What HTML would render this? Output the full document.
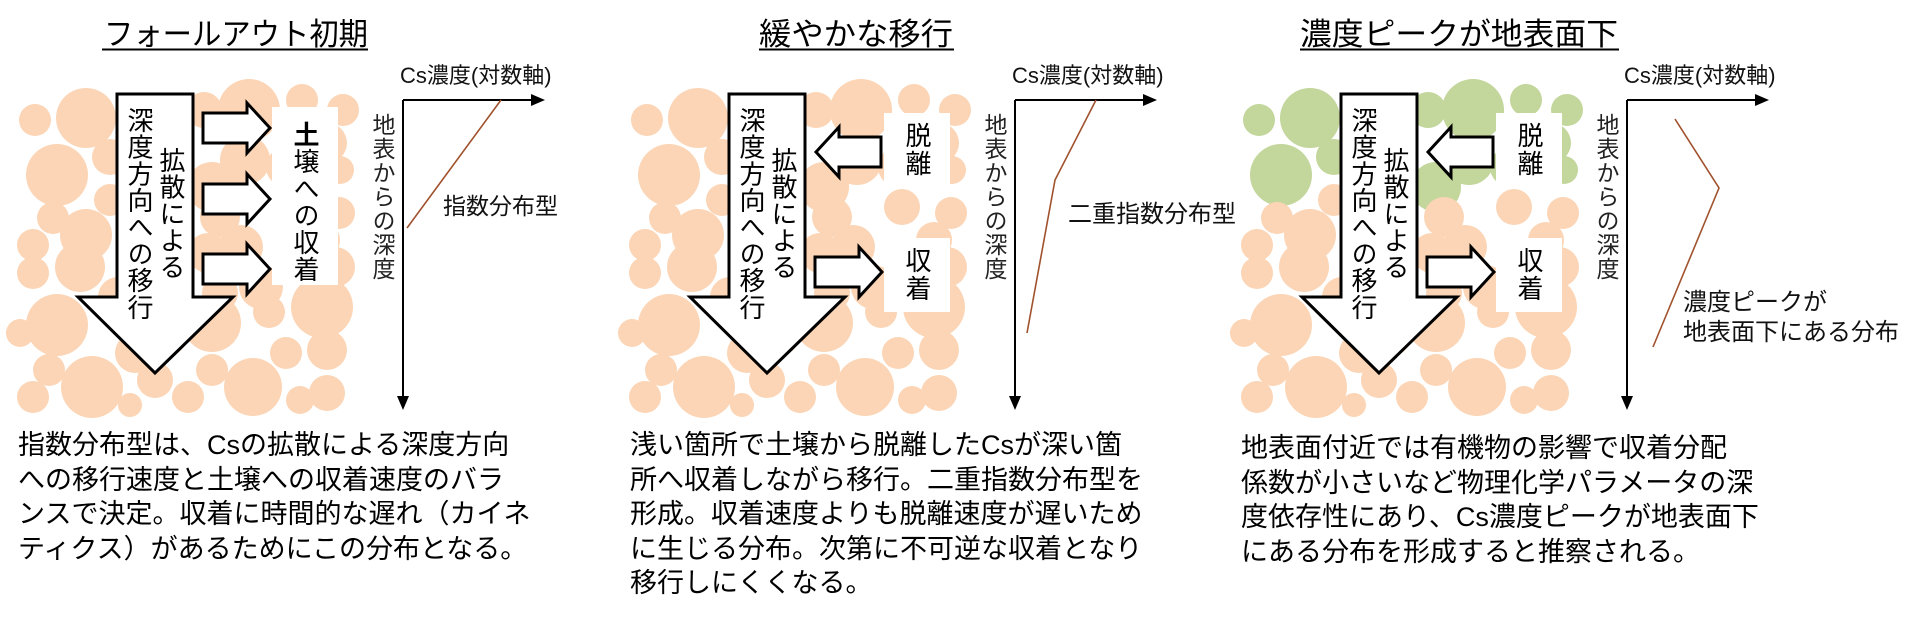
<!DOCTYPE html>
<html><head><meta charset="utf-8">
<style>
html,body{margin:0;padding:0;background:#fff;}
body{width:1917px;height:618px;position:relative;overflow:hidden;font-family:"Liberation Sans","Noto Sans CJK JP",sans-serif;}
svg{position:absolute;left:0;top:0;}
.v{position:absolute;writing-mode:vertical-rl;white-space:nowrap;color:#000;line-height:1;}
.para{position:absolute;font-size:27px;line-height:34.5px;white-space:nowrap;color:#000;}
.lab{position:absolute;white-space:nowrap;font-size:23px;line-height:1;color:#111;}
</style></head><body>
<svg width="1917" height="618" viewBox="0 0 1917 618">
<defs>
<g id="ctop">
<circle cx="35" cy="120" r="16"/><circle cx="86" cy="118" r="30"/><circle cx="57" cy="175" r="31"/>
<circle cx="110" cy="157" r="18"/><circle cx="245" cy="160" r="25"/><circle cx="249" cy="110" r="31"/>
<circle cx="302" cy="100" r="16"/><circle cx="343" cy="110" r="16"/><circle cx="327" cy="143" r="20"/>
<circle cx="204" cy="110" r="18"/><circle cx="212" cy="187" r="25"/><circle cx="286" cy="167" r="20"/>
<circle cx="150" cy="115" r="20"/><circle cx="340" cy="170" r="14"/>
</g>
<g id="cbot">
<circle cx="53" cy="218" r="16"/><circle cx="33" cy="245" r="16"/><circle cx="33" cy="273" r="16"/>
<circle cx="86" cy="235" r="26"/><circle cx="80" cy="267" r="25"/><circle cx="57" cy="325" r="31"/>
<circle cx="49" cy="370" r="16"/><circle cx="33" cy="397" r="16"/><circle cx="92" cy="387" r="31"/>
<circle cx="135" cy="353" r="20"/><circle cx="155" cy="380" r="18"/><circle cx="188" cy="397" r="16"/>
<circle cx="212" cy="370" r="16"/><circle cx="253" cy="387" r="29"/><circle cx="286" cy="353" r="16"/>
<circle cx="327" cy="350" r="20"/><circle cx="327" cy="393" r="18"/><circle cx="269" cy="312" r="16"/>
<circle cx="322" cy="307" r="31"/><circle cx="335" cy="267" r="20"/><circle cx="322" cy="240" r="18"/>
<circle cx="339" cy="213" r="16"/><circle cx="220" cy="217" r="20"/><circle cx="208" cy="253" r="20"/>
<circle cx="241" cy="247" r="22"/><circle cx="220" cy="293" r="18"/><circle cx="212" cy="323" r="29"/>
<circle cx="163" cy="333" r="25"/><circle cx="20" cy="333" r="14"/><circle cx="118" cy="297" r="20"/>
<circle cx="290" cy="207" r="18"/><circle cx="261" cy="287" r="22"/><circle cx="110" cy="200" r="16"/>
<circle cx="140" cy="250" r="22"/><circle cx="170" cy="290" r="18"/><circle cx="300" cy="400" r="14"/>
<circle cx="130" cy="405" r="12"/>
</g>
</defs>

<g transform="translate(0,0)">
<use href="#ctop" fill="#FBD5B5"/><use href="#cbot" fill="#FBD5B5"/>
<text x="236" y="45" font-size="31" text-anchor="middle" textLength="264" lengthAdjust="spacingAndGlyphs" font-family="Liberation Sans, Noto Sans CJK JP, sans-serif">フォールアウト初期</text>
<line x1="102" y1="49.5" x2="368" y2="49.5" stroke="#000" stroke-width="2"/>
<polygon points="117,94 193,94 193,297 233,297 155,373 78,297 117,297" fill="#fff" stroke="#000" stroke-width="3"/>
<polygon points="203,113 247,113 247,103 270,128 247,153 247,143 203,143" fill="#fff" stroke="#000" stroke-width="3"/>
<polygon points="203,184 247,184 247,174 270,199 247,224 247,214 203,214" fill="#fff" stroke="#000" stroke-width="3"/>
<polygon points="203,254 247,254 247,244 270,269 247,294 247,284 203,284" fill="#fff" stroke="#000" stroke-width="3"/>
<rect x="272" y="107" width="66" height="178" fill="#fff"/>
<line x1="403" y1="100" x2="403" y2="398" stroke="#000" stroke-width="2"/>
<polygon points="397,396 409,396 403,410" fill="#000"/>
<line x1="403" y1="100" x2="533" y2="100" stroke="#000" stroke-width="2"/>
<polygon points="531,94 531,106 545,100" fill="#000"/>
<polyline points="501,100 407,228" fill="none" stroke="#A0522D" stroke-width="1.6"/>
</g>

<g transform="translate(612,0)">
<use href="#ctop" fill="#FBD5B5"/><use href="#cbot" fill="#FBD5B5"/>
<text x="244" y="45" font-size="31" text-anchor="middle" textLength="194" lengthAdjust="spacingAndGlyphs" font-family="Liberation Sans, Noto Sans CJK JP, sans-serif">緩やかな移行</text>
<line x1="147" y1="49.5" x2="342" y2="49.5" stroke="#000" stroke-width="2"/>
<polygon points="117,94 193,94 193,297 233,297 155,373 78,297 117,297" fill="#fff" stroke="#000" stroke-width="3"/>
<polygon points="269,137 227,137 227,127 204,152 227,177 227,167 269,167" fill="#fff" stroke="#000" stroke-width="3"/>
<polygon points="203,257 247,257 247,247 270,272 247,297 247,287 203,287" fill="#fff" stroke="#000" stroke-width="3"/>
<rect x="272" y="113" width="66" height="74" fill="#fff"/>
<rect x="272" y="238" width="66" height="74" fill="#fff"/>
<line x1="403" y1="100" x2="403" y2="398" stroke="#000" stroke-width="2"/>
<polygon points="397,396 409,396 403,410" fill="#000"/>
<line x1="403" y1="100" x2="533" y2="100" stroke="#000" stroke-width="2"/>
<polygon points="531,94 531,106 545,100" fill="#000"/>
<polyline points="484,100 443,180 415,333" fill="none" stroke="#A0522D" stroke-width="1.6"/>
</g>

<g transform="translate(1224,0)">
<use href="#ctop" fill="#C3D69B"/><use href="#cbot" fill="#FBD5B5"/>
<text x="235" y="45" font-size="31" text-anchor="middle" textLength="318" lengthAdjust="spacingAndGlyphs" font-family="Liberation Sans, Noto Sans CJK JP, sans-serif">濃度ピークが地表面下</text>
<line x1="76" y1="49.5" x2="395" y2="49.5" stroke="#000" stroke-width="2"/>
<polygon points="117,94 193,94 193,297 233,297 155,373 78,297 117,297" fill="#fff" stroke="#000" stroke-width="3"/>
<polygon points="269,137 227,137 227,127 204,152 227,177 227,167 269,167" fill="#fff" stroke="#000" stroke-width="3"/>
<polygon points="203,257 247,257 247,247 270,272 247,297 247,287 203,287" fill="#fff" stroke="#000" stroke-width="3"/>
<rect x="272" y="113" width="66" height="74" fill="#fff"/>
<rect x="272" y="238" width="66" height="74" fill="#fff"/>
<line x1="403" y1="100" x2="403" y2="398" stroke="#000" stroke-width="2"/>
<polygon points="397,396 409,396 403,410" fill="#000"/>
<line x1="403" y1="100" x2="533" y2="100" stroke="#000" stroke-width="2"/>
<polygon points="531,94 531,106 545,100" fill="#000"/>
<polyline points="451,119 495,188 429,347" fill="none" stroke="#A0522D" stroke-width="1.6"/>
</g>
</svg>

<div class="v" style="left:126px;top:107px;font-size:26px;letter-spacing:0.7px;">深度方向への移行</div>
<div class="v" style="left:158px;top:147px;font-size:26px;letter-spacing:0.7px;">拡散による</div>
<div class="v" style="left:292px;top:121px;font-size:26px;letter-spacing:1px;"><b>土</b>壌への収着</div>
<div class="lab" style="left:400px;top:65px;font-size:22px;">Cs濃度(対数軸)</div>
<div class="v" style="left:370px;top:113px;font-size:23px;letter-spacing:1px;color:#222;">地表からの深度</div>
<div class="lab" style="left:443px;top:195px;">指数分布型</div>
<div class="para" style="left:18px;top:428px;">指数分布型は、Csの拡散による深度方向<br>への移行速度と土壌への収着速度のバラ<br>ンスで決定。収着に時間的な遅れ（カイネ<br>ティクス）があるためにこの分布となる。</div>

<div class="v" style="left:738px;top:107px;font-size:26px;letter-spacing:0.7px;">深度方向への移行</div>
<div class="v" style="left:770px;top:147px;font-size:26px;letter-spacing:0.7px;">拡散による</div>
<div class="v" style="left:904px;top:122px;font-size:26px;letter-spacing:2px;">脱離</div>
<div class="v" style="left:904px;top:247px;font-size:26px;letter-spacing:2px;">収着</div>
<div class="lab" style="left:1012px;top:65px;font-size:22px;">Cs濃度(対数軸)</div>
<div class="v" style="left:982px;top:113px;font-size:23px;letter-spacing:1px;color:#222;">地表からの深度</div>
<div class="lab" style="left:1068px;top:203px;font-size:24px;">二重指数分布型</div>
<div class="para" style="left:630px;top:428px;">浅い箇所で土壌から脱離したCsが深い箇<br>所へ収着しながら移行。二重指数分布型を<br>形成。収着速度よりも脱離速度が遅いため<br>に生じる分布。次第に不可逆な収着となり<br>移行しにくくなる。</div>

<div class="v" style="left:1350px;top:107px;font-size:26px;letter-spacing:0.7px;">深度方向への移行</div>
<div class="v" style="left:1382px;top:147px;font-size:26px;letter-spacing:0.7px;">拡散による</div>
<div class="v" style="left:1516px;top:122px;font-size:26px;letter-spacing:2px;">脱離</div>
<div class="v" style="left:1516px;top:247px;font-size:26px;letter-spacing:2px;">収着</div>
<div class="lab" style="left:1624px;top:65px;font-size:22px;">Cs濃度(対数軸)</div>
<div class="v" style="left:1594px;top:113px;font-size:23px;letter-spacing:1px;color:#222;">地表からの深度</div>
<div class="lab" style="left:1683px;top:291px;font-size:24px;">濃度ピークが</div>
<div class="lab" style="left:1683px;top:321px;font-size:24px;">地表面下にある分布</div>
<div class="para" style="left:1241px;top:431px;">地表面付近では有機物の影響で収着分配<br>係数が小さいなど物理化学パラメータの深<br>度依存性にあり、Cs濃度ピークが地表面下<br>にある分布を形成すると推察される。</div>
</body></html>
